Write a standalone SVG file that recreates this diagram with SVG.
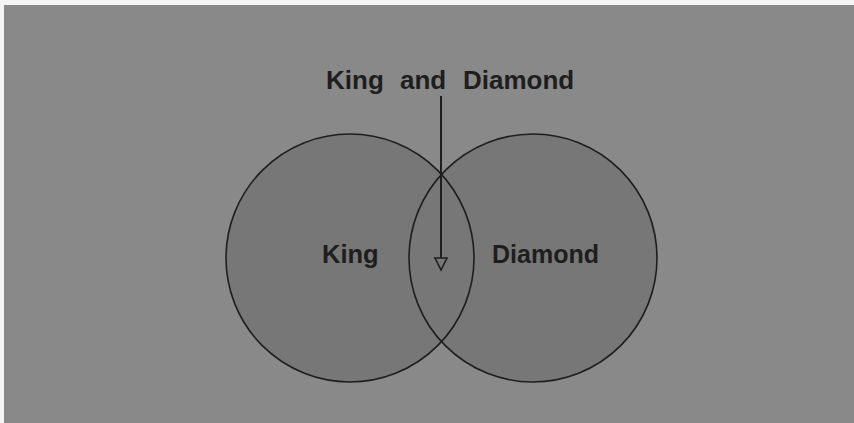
<svg xmlns="http://www.w3.org/2000/svg" width="854" height="423" viewBox="0 0 854 423">
  <style>
    .lbl { font-family: "Liberation Sans", Arial, sans-serif; font-weight: bold; fill: #1e1e1e; }
    .fill { fill: #777777; stroke: none; }
    .ring { fill: none; stroke: #1e1e1e; stroke-width: 1.6; }
    .conn { stroke: #1e1e1e; stroke-width: 2; fill: none; }
  </style>
  <rect x="0" y="0" width="854" height="423" fill="#f4f4f4"/>
  <rect x="4" y="5" width="850" height="418" fill="#898989"/>
  <g id="king">
    <circle class="fill" cx="350" cy="258" r="124"/>
  </g>
  <g id="diamond">
    <circle class="fill" cx="533" cy="258" r="124"/>
    <circle class="ring" cx="533" cy="258" r="124"/>
  </g>
  <circle class="ring" cx="350" cy="258" r="124"/>
  <g id="king-label"><text class="lbl" x="322" y="263" font-size="25.5">King</text></g>
  <g id="diamond-label"><text class="lbl" x="492" y="263" font-size="25">Diamond</text></g>
  <g id="title"><text class="lbl" y="89" font-size="26"><tspan x="326">King</tspan><tspan x="400">and</tspan><tspan x="463">Diamond</tspan></text></g>
  <g id="connectors">
    <line class="conn" x1="441" y1="96" x2="441" y2="258"/>
    <path d="M435,258 L447,258 L441,270 Z" fill="#777777" stroke="#1e1e1e" stroke-width="1.6"/>
  </g>
</svg>
